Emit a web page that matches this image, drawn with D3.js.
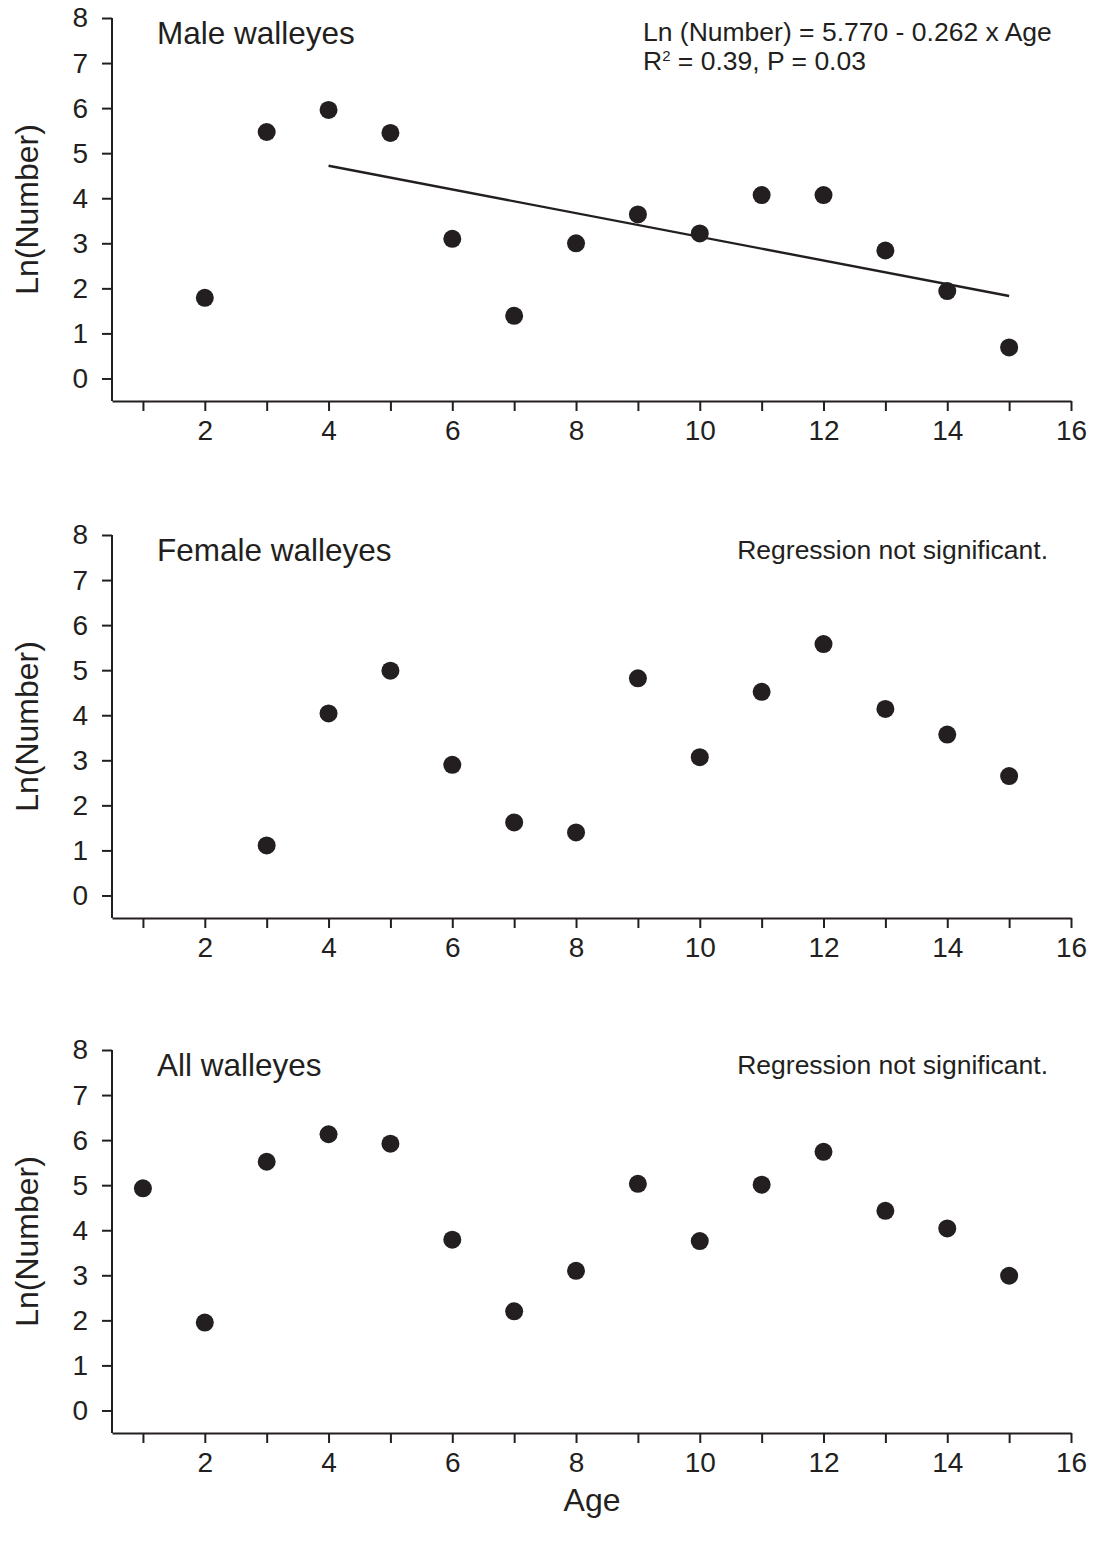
<!DOCTYPE html>
<html>
<head>
<meta charset="utf-8">
<script src="https://cdn.jsdelivr.net/npm/d3@7"></script>
<style>
  body { margin: 0; background: #fff; }
  svg text { font-family: "Liberation Sans", Arial, Helvetica, sans-serif; fill: #231f20; }
  .axis path, .axis line { stroke: #231f20; stroke-width: 2; }
  .axis text { font-size: 28px; }
</style>
</head>
<body>
<div id="chart"></div>
<script>
// Data
var maleAges = [2, 3, 4, 5, 6, 7, 8, 9, 10, 11, 12, 13, 14, 15];
var maleLn = [1.79, 5.47, 5.96, 5.45, 3.10, 1.39, 3.00, 3.64, 3.22, 4.07, 4.07, 2.84, 1.94, 0.69];

var femaleAges = [3, 4, 5, 6, 7, 8, 9, 10, 11, 12, 13, 14, 15];
var femaleLn = [1.11, 4.04, 4.99, 2.90, 1.62, 1.40, 4.82, 3.07, 4.52, 5.58, 4.14, 3.57, 2.65];

var allAges = [1, 2, 3, 4, 5, 6, 7, 8, 9, 10, 11, 12, 13, 14, 15];
var allLn = [4.93, 1.95, 5.52, 6.13, 5.92, 3.79, 2.20, 3.10, 5.03, 3.76, 5.01, 5.74, 4.43, 4.04, 2.99];

// fitted line for males (end points)
var maleFitAges = [4, 15];
var maleFitLn = [4.72, 1.83];

var xTicks = [1, 2, 3, 4, 5, 6, 7, 8, 9, 10, 11, 12, 13, 14, 15, 16];
var yTicks = [0, 1, 2, 3, 4, 5, 6, 7, 8];

var panelTitles = ["Male walleyes", "Female walleyes", "All walleyes"];
var panelNotes = [
  ["Ln (Number) = 5.770 - 0.262 x Age", "R\u00B2 = 0.39, P = 0.03"],
  ["Regression not significant."],
  ["Regression not significant."]
];

// Set up svg
var svgWidth = 1094;
var svgHeight = 1548;
var ink = "#231f20";

var svg = d3.select("#chart")
  .append("svg")
  .attr("width", svgWidth)
  .attr("height", svgHeight);

var left = 112;
var right = 1071;
var panelTops = [18, 535, 1050];
var panelHeight = 383;

var xScale = d3.scaleLinear()
  .domain([0.5, 16])
  .range([left, right]);

var panels = [
  { ages: maleAges, values: maleLn },
  { ages: femaleAges, values: femaleLn },
  { ages: allAges, values: allLn }
];

panels.forEach(function(p, i) {
  var top = panelTops[i];
  var bottom = top + panelHeight;

  var yScale = d3.scaleLinear()
    .domain([-0.5, 8])
    .range([bottom, top]);

  // y axis (top ends at the 8 tick)
  var yAxis = d3.axisLeft(yScale)
    .tickValues(yTicks)
    .tickSize(10)
    .tickSizeOuter(0)
    .tickPadding(14)
    .tickFormat(d3.format("d"));

  var yg = svg.append("g")
    .attr("class", "axis")
    .attr("transform", `translate(${left}, 0)`)
    .call(yAxis);
  yg.select(".domain")
    .attr("d", `M0,${yScale(8)}V${bottom}`);

  // x axis, minor ticks on odd ages without labels
  var xAxis = d3.axisBottom(xScale)
    .tickValues(xTicks)
    .tickSize(10)
    .tickSizeOuter(0)
    .tickPadding(9)
    .tickFormat(d => d % 2 === 0 ? d : "");

  svg.append("g")
    .attr("class", "axis")
    .attr("transform", `translate(0, ${bottom})`)
    .call(xAxis);

  // points
  svg.append("g")
    .selectAll("circle")
    .data(p.ages)
    .enter()
    .append("circle")
    .attr("cx", d => xScale(d))
    .attr("cy", (d, j) => yScale(p.values[j]))
    .attr("r", 9)
    .attr("fill", ink);

  // regression line for male panel
  if (i === 0) {
    var line = d3.line()
      .x(d => xScale(d))
      .y((d, j) => yScale(maleFitLn[j]));
    svg.append("path")
      .datum(maleFitAges)
      .attr("d", line)
      .attr("fill", "none")
      .attr("stroke", ink)
      .attr("stroke-width", 2.4);
  }

  // panel title
  svg.append("text")
    .attr("x", 157)
    .attr("y", top + 26)
    .style("font-size", "31.5px")
    .text(panelTitles[i]);

  // notes
  if (i === 0) {
    var note = svg.append("text")
      .attr("x", 643)
      .attr("y", top + 23)
      .style("font-size", "26.5px");
    note.append("tspan").text(panelNotes[0][0]);
    var l2 = svg.append("text")
      .attr("x", 643)
      .attr("y", top + 52)
      .style("font-size", "26.5px");
    l2.append("tspan").text("R");
    l2.append("tspan").attr("dy", -9).style("font-size", "15px").text("2");
    l2.append("tspan").attr("dy", 9).text(" = 0.39, P = 0.03");
  } else {
    svg.append("text")
      .attr("x", 1048)
      .attr("y", top + 24)
      .attr("text-anchor", "end")
      .style("font-size", "26.5px")
      .text(panelNotes[i][0]);
  }

  // y axis title
  svg.append("text")
    .attr("transform", `translate(38, ${(top + bottom) / 2}) rotate(-90)`)
    .attr("text-anchor", "middle")
    .style("font-size", "32px")
    .text("Ln(Number)");
});

// x axis title
svg.append("text")
  .attr("x", 592)
  .attr("y", 1511)
  .attr("text-anchor", "middle")
  .style("font-size", "32px")
  .text("Age");
</script>
</body>
</html>
